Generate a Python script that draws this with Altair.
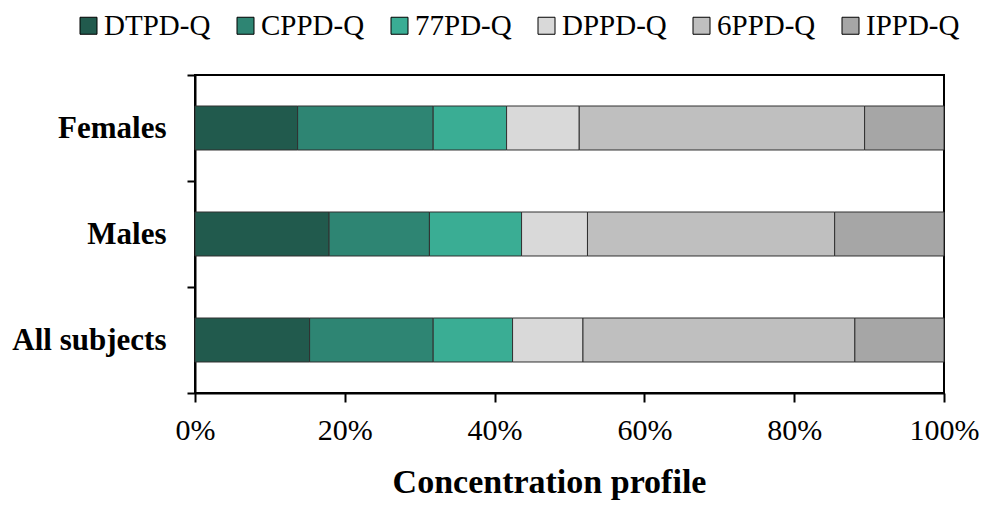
import altair as alt
import pandas as pd

groups = ["Females", "Males", "All subjects"]
series = ["DTPD-Q", "CPPD-Q", "77PD-Q", "DPPD-Q", "6PPD-Q", "IPPD-Q"]
colors = ["#215A4D", "#2E8573", "#3AAD94", "#D9D9D9", "#BFBFBF", "#A6A6A6"]

females = [13.7, 18.1, 9.8, 9.7, 38.1, 10.6]
males = [17.9, 13.4, 12.3, 8.8, 33.0, 14.6]
all_subjects = [15.3, 16.5, 10.6, 9.4, 36.3, 11.9]

x_ticks = [0, 0.2, 0.4, 0.6, 0.8, 1.0]

rows = []
for g, vals in zip(groups, [females, males, all_subjects]):
    for i, (s, v) in enumerate(zip(series, vals)):
        rows.append({"group": g, "series": s, "value": v, "order": i})
df = pd.DataFrame(rows)

FONT = "Liberation Serif"

chart = alt.Chart(df).mark_bar(
    height=alt.RelativeBandSize(0.415),
    stroke="#303030",
    strokeWidth=1,
).encode(
    y=alt.Y(
        "group:N",
        sort=groups,
        scale=alt.Scale(paddingInner=0, paddingOuter=0),
        axis=alt.Axis(
            title=None,
            tickBand="extent",
            labelFont=FONT,
            labelFontSize=31,
            labelFontWeight="bold",
            labelColor="black",
            labelPadding=21,
            tickSize=8,
            tickColor="black",
            tickWidth=2,
            domainColor="black",
            domainWidth=2,
        ),
    ),
    x=alt.X(
        "value:Q",
        stack="normalize",
        scale=alt.Scale(domain=[0, 1], nice=False),
        axis=alt.Axis(
            title="Concentration profile",
            values=x_ticks,
            format=".0%",
            labelFont=FONT,
            labelFontSize=30,
            labelColor="black",
            labelPadding=13,
            labelFlush=False,
            tickSize=9,
            tickColor="black",
            tickWidth=2,
            domainColor="black",
            domainWidth=2,
            grid=False,
            titleFont=FONT,
            titleFontSize=34,
            titleFontWeight="bold",
            titleColor="black",
            titleX=354,
            titleY=99,
            titleBaseline="alphabetic",
        ),
    ),
    color=alt.Color(
        "series:N",
        sort=series,
        scale=alt.Scale(domain=series, range=colors),
        legend=alt.Legend(
            title=None,
            orient="none",
            direction="horizontal",
            legendX=-121,
            legendY=-64,
            symbolType="square",
            symbolSize=289,
            symbolStrokeColor="black",
            symbolStrokeWidth=1,
            symbolOpacity=1,
            labelFont=FONT,
            labelFontSize=29,
            labelColor="black",
            labelOffset=1,
            columnPadding=20,
            padding=0,
        ),
    ),
    order=alt.Order("order:Q"),
).properties(
    width=749,
    height=318,
    autosize=alt.AutoSizeParams(type="none"),
    padding={"left": 187, "top": 67, "right": 38, "bottom": 107},
).configure_view(
    stroke="black",
    strokeWidth=2,
)

chart.save("out.html", embed_options={"renderer": "svg", "actions": False})
